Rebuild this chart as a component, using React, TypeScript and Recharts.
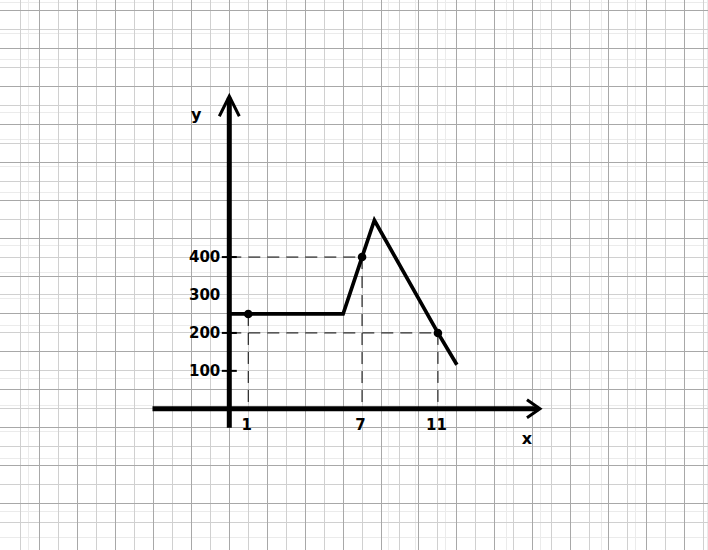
import {
  ComposedChart,
  Line,
  Scatter,
  XAxis,
  YAxis,
  CartesianGrid,
  ReferenceLine,
  ReferenceDot
} from "recharts"

// the broken line
const xValues = [0, 1, 6, 7, 7.65, 11, 12]
const yValues = [250, 250, 250, 400, 497, 200, 116]

// points with a dot and dashed guides
const markX = [1, 7, 11]
const markY = [250, 400, 200]
const markHGuide = [false, true, true]

// tick labels
const xTicks = [1, 7, 11]
const xTickLabels = ["1", "7", "11"]
const yTicks = [100, 200, 300, 400]
const yTickLabels = ["100", "200", "300", "400"]
const yTickMarked = [true, true, false, true]

// drawn extent of the two axes
const xAxisRange = [-4.05, 16.38]
const yAxisRange = [-50, 824]

// the plot covers the whole sheet, so the domain is the visible paper
const X_DOMAIN = [-12.09, 25.24]
const Y_DOMAIN = [-372.2, 1077.6]

const FONT = "'DejaVu Sans', sans-serif"

const lineData = xValues.map((x, i) => ({ x, y: yValues[i] }))
const markData = markX.map((x, i) => ({ x, y: markY[i] }))

function steps(from: number, to: number, step: number) {
  const out: number[] = []
  for (let k = 0; from + k * step <= to + 1e-9; k++) {
    out.push(Math.round((from + k * step) * 1000) / 1000)
  }
  return out
}

// graph paper
const minorV = steps(-12, 25.2, 0.2)
const midV = steps(-11, 25, 2)
const majorV = steps(-12, 24, 2)
const minorH = steps(-370, 1070, 10)
const midH = steps(-300, 1000, 100)
const majorH = steps(-350, 1050, 100)

function axisShape(back: number, side: number, title: string, tx: number, ty: number) {
  return (p: any) => {
    const dx = p.x2 - p.x1
    const dy = p.y2 - p.y1
    const len = Math.hypot(dx, dy) || 1
    const ux = dx / len
    const uy = dy / len
    const bx = p.x2 - ux * back
    const by = p.y2 - uy * back
    const nx = -uy * side
    const ny = ux * side
    return (
      <g>
        <line x1={p.x1} y1={p.y1} x2={p.x2 - ux * 1.5} y2={p.y2 - uy * 1.5} stroke="#000" strokeWidth={5} />
        <polyline
          points={`${bx + nx},${by + ny} ${p.x2},${p.y2} ${bx - nx},${by - ny}`}
          fill="none"
          stroke="#000"
          strokeWidth={3}
        />
        <text x={p.x2 + tx} y={p.y2 + ty} textAnchor="middle" fontFamily={FONT} fontWeight="bold" fontSize={16} fill="#000">
          {title}
        </text>
      </g>
    )
  }
}

export default function App() {
  return (
    <div style={{ position: "absolute", left: 0, top: 0, width: 708, height: 550, background: "#fff" }}>
      <ComposedChart width={708} height={550} margin={{ top: 0, right: 0, bottom: 0, left: 0 }}>
        <XAxis type="number" dataKey="x" domain={X_DOMAIN} allowDataOverflow hide />
        <YAxis type="number" dataKey="y" domain={Y_DOMAIN} allowDataOverflow hide />

        <CartesianGrid verticalValues={minorV} horizontalValues={minorH} stroke="#ebebeb" shapeRendering="crispEdges" />
        <CartesianGrid verticalValues={midV} horizontalValues={midH} stroke="#d0d0d0" shapeRendering="crispEdges" />
        <CartesianGrid verticalValues={majorV} horizontalValues={majorH} stroke="#a8a8a8" shapeRendering="crispEdges" />

        {markX.map((x, i) => (
          <ReferenceLine
            key={"v" + x}
            segment={[{ x, y: markY[i] }, { x, y: 0 }]}
            stroke="#000"
            strokeWidth={1}
            strokeDasharray="12 7"
          />
        ))}
        {markX.map((x, i) =>
          markHGuide[i] ? (
            <ReferenceLine
              key={"h" + x}
              segment={[{ x: 0, y: markY[i] }, { x, y: markY[i] }]}
              stroke="#000"
              strokeWidth={1}
              strokeDasharray="12 7"
            />
          ) : null
        )}

        <ReferenceLine
          segment={[{ x: xAxisRange[0], y: 0 }, { x: xAxisRange[1], y: 0 }]}
          shape={axisShape(13, 9, "x", -13, 35)}
        />
        <ReferenceLine
          segment={[{ x: 0, y: yAxisRange[0] }, { x: 0, y: yAxisRange[1] }]}
          shape={axisShape(20, 10, "y", -33, 24)}
        />

        {yTicks.map((v, i) => (
          <ReferenceDot
            key={"yt" + v}
            x={0}
            y={v}
            shape={(p: any) => (
              <g>
                {yTickMarked[i] && (
                  <line x1={p.cx - 7.5} x2={p.cx + 7.5} y1={p.cy} y2={p.cy} stroke="#000" strokeWidth={2} />
                )}
                <text
                  x={p.cx - 9}
                  y={p.cy}
                  dy="0.36em"
                  textAnchor="end"
                  fontFamily={FONT}
                  fontWeight="bold"
                  fontSize={15}
                  fill="#000"
                >
                  {yTickLabels[i]}
                </text>
              </g>
            )}
          />
        ))}

        {xTicks.map((v, i) => (
          <ReferenceDot
            key={"xt" + v}
            x={v}
            y={0}
            shape={(p: any) => (
              <text
                x={p.cx - 1.5}
                y={p.cy + 21}
                textAnchor="middle"
                fontFamily={FONT}
                fontWeight="bold"
                fontSize={15}
                fill="#000"
              >
                {xTickLabels[i]}
              </text>
            )}
          />
        ))}

        <Line
          data={lineData}
          dataKey="y"
          type="linear"
          stroke="#000"
          strokeWidth={3.7}
          dot={false}
          activeDot={false}
          isAnimationActive={false}
        />
        <Scatter
          data={markData}
          dataKey="y"
          fill="#000"
          isAnimationActive={false}
          shape={(p: any) => <circle cx={p.cx} cy={p.cy} r={4.3} fill="#000" />}
        />
      </ComposedChart>
    </div>
  )
}
